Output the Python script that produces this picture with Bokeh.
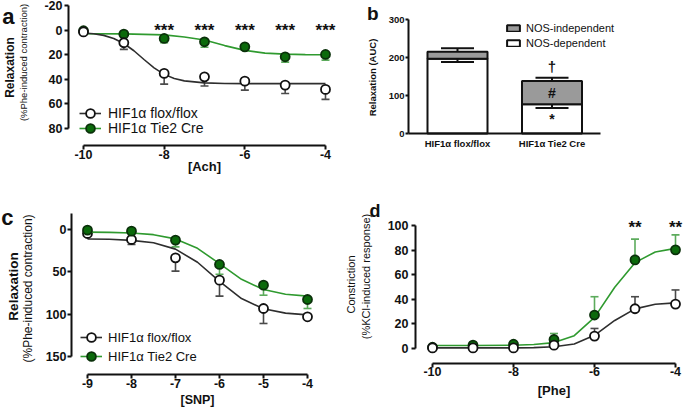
from bokeh.plotting import figure
from bokeh.models import (Range1d, ColumnDataSource, Whisker, TeeHead, Legend, LegendItem,
                          FixedTicker, LinearAxis)
from bokeh.layouts import row, column
from bokeh.embed import file_html
from bokeh.resources import INLINE
from bokeh.core.properties import value

FONT = "Liberation Sans"

# ---------------- data ----------------
# (a) acetylcholine relaxation
ach_x = [-10, -9, -8, -7, -6, -5, -4]
a_flox = [1.5, 10.3, 35.2, 38.0, 41.5, 44.7, 48.2]
a_flox_sem = [0.4, 5.4, 8.7, 7.5, 7.3, 6.8, 8.1]
a_tie2 = [0.5, 3.3, 6.8, 9.5, 13.6, 21.7, 19.8]
a_tie2_sem = [0.4, 0.8, 3.5, 4.5, 2.7, 4.3, 4.6]
a_flox_fit_x = [-10, -9.75, -9.5, -9.25, -9, -8.75, -8.5, -8.25, -8, -7.75, -7.5, -7, -6.5, -6, -5, -4]
a_flox_fit = [2.3, 3.0, 4.3, 6.8, 10.9, 16.8, 23.9, 30.7, 36.0, 39.3, 41.3, 42.9, 43.4, 43.5, 43.5, 43.5]
a_tie2_fit_x = [-10, -9, -8, -7.5, -7, -6.5, -6, -5.5, -5, -4.5, -4]
a_tie2_fit = [3.0, 3.1, 3.9, 5.6, 8.0, 12.6, 16.5, 18.7, 19.5, 19.9, 20.0]
a_sig_x = [-8, -7, -6, -5, -4]
a_sig = ["***", "***", "***", "***", "***"]
a_xticks = [-10, -8, -6, -4]
a_yticks = [-20, 0, 20, 40, 60, 80]

# (b) AUC split into NOS-dependent / NOS-independent parts
b_groups = ["HIF1α flox/flox", "HIF1α Tie2 Cre"]
b_nos_dep = [197, 77]
b_nos_dep_sem = [9, 10]
b_nos_indep = [18, 61]
b_total_sem = [9.5, 9]
b_dep_mark = ["", "*"]
b_indep_mark = ["", "#"]
b_total_mark = ["", "†"]
b_yticks = [0, 100, 200, 300]

# (c) SNP relaxation
snp_x = [-9, -8, -7, -6, -5, -4]
c_flox = [4.7, 11.8, 33.5, 59.8, 93.3, 103.1]
c_flox_sem = [1.0, 5.9, 15.7, 18.9, 17.7, 1.0]
c_tie2 = [0.8, 2.0, 12.6, 41.3, 65.7, 82.7]
c_tie2_sem = [1.0, 1.0, 7.9, 11.5, 11.9, 10.6]
c_fit_x = [-9, -8.5, -8, -7.5, -7, -6.5, -6, -5.5, -5, -4.5, -4]
c_flox_fit = [11.2, 11.6, 12.8, 15.7, 23.2, 38.7, 61.2, 81.6, 93.6, 98.8, 100.8]
c_tie2_fit = [3.1, 3.4, 4.1, 6.1, 11.1, 22.2, 40.4, 58.8, 70.9, 76.5, 78.7]
c_xticks = [-9, -8, -7, -6, -5, -4]
c_yticks = [0, 50, 100, 150]

# (d) phenylephrine constriction
phe_x = [-10, -9, -8, -7, -6, -5, -4]
d_flox = [0.5, 0.5, 0.5, 2.7, 10.1, 32.3, 36.1]
d_flox_sem = [0.3, 0.3, 0.3, 0.5, 6.2, 9.8, 11.5]
d_tie2 = [1.0, 2.7, 3.5, 7.3, 27.2, 72.0, 80.2]
d_tie2_sem = [0.3, 0.5, 0.5, 4.9, 14.9, 16.9, 12.2]
d_fit_x = [-10, -9, -8, -7.5, -7, -6.5, -6, -5.5, -5, -4.5, -4]
d_flox_fit = [0.5, 0.5, 0.5, 0.7, 1.4, 3.7, 10.7, 22.8, 32.2, 36.0, 37.1]
d_tie2_fit = [2.5, 2.5, 2.7, 3.2, 4.8, 10.4, 25.3, 49.8, 69.8, 78.5, 81.4]
d_sig_x = [-5, -4]
d_sig = ["**", "**"]
d_xticks = [-10, -8, -6, -4]
d_yticks = [0, 20, 40, 60, 80, 100]

# ---------------- styles ----------------
INK = "#111111"
GREEN_FILL = "#0b6a0b"
GREEN_EDGE = "#0a300a"
GREEN_LINE = "#2f9a2f"
GREEN_ERR = "#5cab5c"
BLACK_LINE = "#2e2e2e"
BLACK_ERR = "#4a4a4a"
GREY = "#9a9a9a"


class Canvas:
    """Pixel <-> data helper: each figure's plotting frame fills its whole canvas,
    and every axis is pinned (fixed_location) so that Prism-style detached axes,
    titles and panel letters can sit anywhere on it."""

    def __init__(self, width, height, x_px, x_val, y_px, y_val, inverted=False):
        # x_px/x_val and y_px/y_val: two reference pixel positions and their values
        (px0, px1), (vx0, vx1) = x_px, x_val
        self.xk = (vx1 - vx0) / (px1 - px0)
        self.x0 = vx0 - px0 * self.xk
        (py0, py1), (vy0, vy1) = y_px, y_val
        self.yk = (vy1 - vy0) / (py1 - py0)      # value per pixel measured downward
        self.y0 = vy0 - py0 * self.yk
        self.width, self.height = width, height

    def x(self, px):
        return self.x0 + px * self.xk

    def y(self, py):
        return self.y0 + py * self.yk

    def ranges(self):
        xr = Range1d(self.x(0), self.x(self.width))
        yr = Range1d(self.y(self.height), self.y(0))
        return xr, yr


def make_fig(cv):
    xr, yr = cv.ranges()
    p = figure(width=cv.width, height=cv.height, x_range=xr, y_range=yr, title=None,
               min_border_left=0, min_border_right=0, min_border_top=0,
               min_border_bottom=0, output_backend="svg", toolbar_location=None)
    p.outline_line_color = None
    p.grid.visible = False
    p.background_fill_color = "white"
    return p


def style_axis(ax, loc, ticks, bounds, size, standoff, tick_out=4, labels=None):
    ax.fixed_location = loc
    ax.ticker = FixedTicker(ticks=ticks)
    ax.bounds = bounds
    ax.axis_line_width = 2
    ax.axis_line_color = INK
    ax.major_tick_line_width = 2
    ax.major_tick_line_color = INK if tick_out else None
    ax.major_tick_in = 0
    ax.major_tick_out = tick_out
    ax.minor_tick_in = 0
    ax.minor_tick_out = 0
    ax.minor_tick_line_color = None
    ax.major_label_text_font = FONT
    ax.major_label_text_font_style = "bold"
    ax.major_label_text_font_size = size
    ax.major_label_text_color = INK
    ax.major_label_standoff = standoff
    texts = labels if labels is not None else [str(t) for t in ticks]
    ax.major_label_overrides = {t: s for t, s in zip(ticks, texts)}


def axis_title(ax, text, size, standoff):
    ax.axis_label = text
    ax.axis_label_text_font = FONT
    ax.axis_label_text_font_style = "bold"
    ax.axis_label_text_font_size = size
    ax.axis_label_text_color = INK
    ax.axis_label_standoff = standoff


def side_text_axis(p, loc, ticks=(), labels=(), bounds=None, size="12px",
                   title=None, title_size="12px", title_bold=False):
    """Extra left axis (no line / tick marks) pinned at x=loc, carrying a panel
    letter as its only tick label or one line of the y-axis title."""
    ax = LinearAxis(ticker=FixedTicker(ticks=list(ticks)), bounds=bounds, fixed_location=loc,
                    axis_line_color=None, major_tick_line_color=None,
                    minor_tick_line_color=None, major_tick_in=0, major_tick_out=0,
                    minor_tick_in=0, minor_tick_out=0, major_label_standoff=0,
                    major_label_overrides={t: l for t, l in zip(ticks, labels)},
                    major_label_text_font=FONT, major_label_text_font_size=size,
                    major_label_text_font_style="bold", major_label_text_color=INK)
    if title is not None:
        ax.axis_label = title
        ax.axis_label_text_font = FONT
        ax.axis_label_text_font_size = title_size
        ax.axis_label_text_font_style = "bold" if title_bold else "normal"
        ax.axis_label_text_color = INK
        ax.axis_label_standoff = 0
    p.add_layout(ax, "left")


def add_series(p, x, y, sem, fx, fy, kind):
    if kind == "flox":
        lc, ec, fill, edge = BLACK_LINE, BLACK_ERR, "white", INK
    else:
        lc, ec, fill, edge = GREEN_LINE, GREEN_ERR, GREEN_FILL, GREEN_EDGE
    line = p.line(fx, fy, line_color=lc, line_width=1.6)
    src = ColumnDataSource(dict(x=x, y=y, top=[v + e for v, e in zip(y, sem)]))
    w = Whisker(base="x", lower="y", upper="top", source=src, line_color=ec, line_width=1.6,
                upper_head=TeeHead(size=8, line_color=ec, line_width=1.6), lower_head=None,
                level="underlay")
    p.add_layout(w)
    sc = p.scatter("x", "y", source=src, size=9, fill_color=fill, line_color=edge, line_width=1.8)
    return line, sc


def add_legend_item(p, label, renderers, loc, size, standoff):
    leg = Legend(items=[LegendItem(label=label, renderers=list(renderers))],
                 location=loc, border_line_color=None, background_fill_alpha=0,
                 padding=0, margin=0, spacing=0, glyph_width=22, glyph_height=22,
                 label_height=14, label_standoff=standoff, label_text_font=FONT,
                 label_text_font_size=size, label_text_color=INK)
    p.add_layout(leg)


# ---------------- panel a ----------------
ca = Canvas(355, 200, (83, 325), (-10, -4), (5, 128), (-20, 80))
pa = make_fig(ca)
style_axis(pa.yaxis[0], ca.x(68), a_yticks, (-20, 80), "12.5px", 2)
style_axis(pa.xaxis[0], ca.y(145), a_xticks, (-10, -4), "12.5px", 0)
axis_title(pa.xaxis[0], "[Ach]", "13px", -3)
side_text_axis(pa, ca.x(28.3), bounds=(ca.y(22), ca.y(102)),
               title="(%Phe-induced contraction)", title_size="9.5px")
side_text_axis(pa, ca.x(15.7), bounds=(ca.y(27), ca.y(107)), title="Relaxation",
               title_size="12px", title_bold=True)
side_text_axis(pa, ca.x(14), ticks=[ca.y(9.3)], labels=["a"],
               bounds=(ca.y(8.3), ca.y(10.3)), size="22px")
rt = add_series(pa, ach_x, a_tie2, a_tie2_sem, a_tie2_fit_x, a_tie2_fit, "tie2")
rf = add_series(pa, ach_x, a_flox, a_flox_sem, a_flox_fit_x, a_flox_fit, "flox")
add_legend_item(pa, "HIF1α flox/flox", rf, (79, 200 - 124), "14px", 7)
add_legend_item(pa, "HIF1α Tie2 Cre", rt, (79, 200 - 139), "14px", 7)
pa.text(x=a_sig_x, y=[0] * len(a_sig_x), text=a_sig, text_font=value(FONT),
        text_font_size="17px", text_font_style="bold", text_align="center",
        text_baseline="alphabetic", y_offset=0, text_color=INK)

# ---------------- panel b ----------------
b_pos = list(range(len(b_groups)))
cb = Canvas(329, 200, (102, 196.5), (0, 1), (19, 133), (300, 0))
pb = make_fig(cb)
style_axis(pb.yaxis[0], cb.x(53), b_yticks, (0, 300), "9.5px", 1, tick_out=3)
style_axis(pb.xaxis[0], 0, b_pos, (cb.x(53), cb.x(245)), "9.5px", 4, tick_out=0,
           labels=b_groups)
side_text_axis(pb, cb.x(22.3), bounds=(cb.y(27), cb.y(127)),
               title="Relaxation (AUC)", title_size="9.5px", title_bold=True)
side_text_axis(pb, cb.x(23), ticks=[cb.y(8.4)], labels=["b"],
               bounds=(cb.y(9.4), cb.y(7.4)), size="19px")
totals = [d + i for d, i in zip(b_nos_dep, b_nos_indep)]
bsrc = ColumnDataSource(dict(
    pos=b_pos, dep=b_nos_dep, indep=b_nos_indep,
    dep_lo=[d - e for d, e in zip(b_nos_dep, b_nos_dep_sem)],
    total=totals, total_hi=[t + e for t, e in zip(totals, b_total_sem)],
    dep_mid=[d / 2 for d in b_nos_dep],
    indep_mid=[d + i / 2 for d, i in zip(b_nos_dep, b_nos_indep)],
    dep_mark=b_dep_mark, indep_mark=b_indep_mark, total_mark=b_total_mark))
bars = pb.vbar_stack(["dep", "indep"], x="pos", width=0.635, source=bsrc,
                     fill_color=["white", GREY], line_color=INK, line_width=2)
pb.add_layout(Whisker(base="pos", lower="total", upper="total_hi", source=bsrc,
                      line_color=INK, line_width=2, lower_head=None,
                      upper_head=TeeHead(size=33, line_color=INK, line_width=2),
                      level="annotation"))
pb.add_layout(Whisker(base="pos", lower="dep_lo", upper="dep", source=bsrc,
                      line_color=INK, line_width=2, upper_head=None,
                      lower_head=TeeHead(size=33, line_color=INK, line_width=2),
                      level="annotation"))
pb.text(x="pos", y="dep_mid", text="dep_mark", source=bsrc, text_font=value(FONT),
        text_font_size="14px", text_font_style="bold", text_align="center",
        text_baseline="middle", text_color=INK)
pb.text(x="pos", y="indep_mid", text="indep_mark", source=bsrc, text_font=value(FONT),
        text_font_size="14px", text_font_style="bold", text_align="center",
        text_baseline="middle", text_color=INK)
pb.text(x="pos", y="total_hi", text="total_mark", source=bsrc, text_font=value(FONT),
        text_font_size="15px", text_font_style="bold", text_align="center",
        text_baseline="bottom", y_offset=-3, text_color=INK)
legb = Legend(items=[LegendItem(label="NOS-independent", renderers=[bars[1]]),
                     LegendItem(label="NOS-dependent", renderers=[bars[0]])],
              location=(150, 150), border_line_color=None, background_fill_alpha=0,
              padding=0, margin=0, spacing=1, glyph_width=16, glyph_height=8,
              label_height=14, label_standoff=5, label_text_font=FONT,
              label_text_font_size="11px", label_text_color=INK)
pb.add_layout(legb)

# ---------------- panel c ----------------
cc = Canvas(340, 209, (87, 307), (-9, -4), (29, 156), (0, 150))
pc = make_fig(cc)
style_axis(pc.yaxis[0], cc.x(71), c_yticks, (-19, 150), "12.5px", 1)
style_axis(pc.xaxis[0], cc.y(174), c_xticks, (-9, -4), "12.5px", 0)
axis_title(pc.xaxis[0], "[SNP]", "12.5px", 2)
side_text_axis(pc, cc.x(33.7), bounds=(cc.y(38), cc.y(138)),
               title="(%Phe-induced contraction)", title_size="12px")
side_text_axis(pc, cc.x(19.6), bounds=(cc.y(36), cc.y(136)), title="Relaxation",
               title_size="13.5px", title_bold=True)
side_text_axis(pc, cc.x(13), ticks=[cc.y(7.7)], labels=["c"],
               bounds=(cc.y(6.7), cc.y(8.7)), size="22px")
rf = add_series(pc, snp_x, c_flox, c_flox_sem, c_fit_x, c_flox_fit, "flox")
rt = add_series(pc, snp_x, c_tie2, c_tie2_sem, c_fit_x, c_tie2_fit, "tie2")
add_legend_item(pc, "HIF1α flox/flox", rf, (80, 209 - 148), "13px", 6)
add_legend_item(pc, "HIF1α Tie2 Cre", rt, (80, 209 - 167), "13px", 6)

# ---------------- panel d ----------------
cd = Canvas(344, 209, (92, 335), (-10, -4), (25, 148), (100, 0))
pd = make_fig(cd)
style_axis(pd.yaxis[0], cd.x(75), d_yticks, (0, 100), "12.5px", 3)
style_axis(pd.xaxis[0], cd.y(163), d_xticks, (-10, -4), "12.5px", -1)
axis_title(pd.xaxis[0], "[Phe]", "13px", 4)
side_text_axis(pd, cd.x(40), ticks=[cd.y(10.7)], labels=["d"],
               bounds=(cd.y(11.7), cd.y(9.7)), size="18px")
side_text_axis(pd, cd.x(31.2), bounds=(cd.y(26), cd.y(126)),
               title="(%KCl-induced response)", title_size="11px")
side_text_axis(pd, cd.x(16.2), bounds=(cd.y(34), cd.y(134)), title="Constriction",
               title_size="11px")
rt = add_series(pd, phe_x, d_tie2, d_tie2_sem, d_fit_x, d_tie2_fit, "tie2")
rf = add_series(pd, phe_x, d_flox, d_flox_sem, d_fit_x, d_flox_fit, "flox")
pd.text(x=d_sig_x, y=[100] * len(d_sig_x), text=d_sig, text_font=value(FONT),
        text_font_size="17px", text_font_style="bold", text_align="center",
        text_baseline="alphabetic", y_offset=2, text_color=INK)

layout = column(row(pa, pb), row(pc, pd))
open("out.html", "w").write(file_html(layout, INLINE, "HIF1a vascular responses"))
